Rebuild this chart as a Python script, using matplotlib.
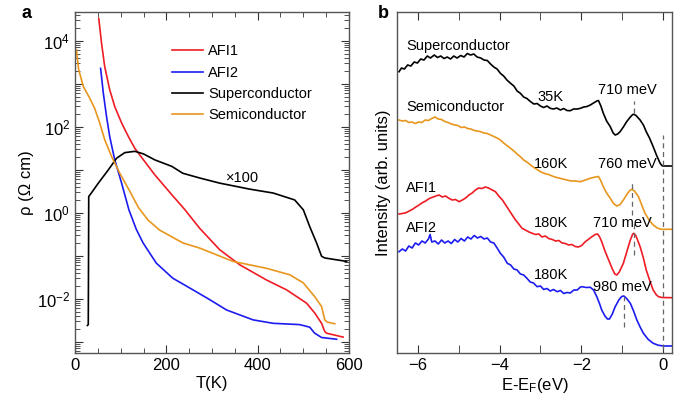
import numpy as np
import matplotlib
matplotlib.use('Agg')
import matplotlib.pyplot as plt
from matplotlib.ticker import FixedLocator, NullFormatter

plt.rcParams['font.family'] = ['Liberation Sans', 'DejaVu Sans']
plt.rcParams['mathtext.fontset'] = 'custom'
plt.rcParams['mathtext.rm'] = 'Liberation Sans'
plt.rcParams['mathtext.it'] = 'Liberation Sans:italic'

red = '#ee1c24'
blue = '#1c1cf0'
orange = '#e8961e'
black = '#000000'
spine = '#555555'

# ---- panel a: resistivity, log10(rho [Ohm cm]) vs T [K]
T_afi1 = [52, 58, 65, 76, 87, 102, 117, 131, 150, 175, 212, 240, 273, 317, 361, 419, 463, 507, 525, 540, 547, 551, 587]
lr_afi1 = [4.52, 3.95, 3.40, 2.86, 2.47, 2.09, 1.77, 1.50, 1.23, 0.88, 0.42, 0.08, -0.36, -0.86, -1.21, -1.56, -1.79, -2.10, -2.33, -2.57, -2.76, -2.80, -2.89]

T_afi2 = [56, 62, 69, 76, 87, 102, 118, 134, 149, 178, 214, 258, 295, 332, 390, 434, 492, 514, 525, 540, 573]
lr_afi2 = [3.36, 2.78, 2.24, 1.77, 1.23, 0.69, 0.07, -0.38, -0.70, -1.17, -1.52, -1.79, -2.02, -2.26, -2.49, -2.57, -2.60, -2.66, -2.80, -2.90, -2.94]

T_sc = [27, 29, 29.6, 30, 35, 51, 73, 91, 109, 131, 150, 175, 212, 236, 273, 317, 383, 434, 481, 500, 514, 529, 540, 547, 595]
lr_sc = [-2.62, -2.60, -1.0, 0.38, 0.45, 0.69, 1.00, 1.27, 1.40, 1.43, 1.37, 1.23, 1.08, 0.92, 0.81, 0.69, 0.55, 0.46, 0.30, 0.07, -0.32, -0.70, -1.01, -1.05, -1.13]

T_semi = [3, 8, 18, 32, 43, 54, 65, 80, 98, 120, 139, 160, 185, 236, 273, 346, 419, 470, 500, 525, 540, 547, 552, 569]
lr_semi = [3.79, 3.33, 2.94, 2.67, 2.43, 2.09, 1.70, 1.31, 0.92, 0.50, 0.12, -0.17, -0.40, -0.70, -0.82, -1.13, -1.29, -1.44, -1.63, -1.95, -2.18, -2.49, -2.54, -2.58]

# ---- panel b: spectra, E - EF [eV] vs intensity (arb.)
E_sc = [-6.46, -6.40, -6.33, -6.25, -6.17, -6.09, -6.01, -5.93, -5.85, -5.77, -5.69, -5.60, -5.52, -5.44, -5.36, -5.28,
        -5.20, -5.12, -5.04, -4.95, -4.87, -4.79, -4.71, -4.63, -4.55, -4.46, -4.38, -4.30, -4.22, -4.14, -4.06, -3.98,
        -3.90, -3.82, -3.73, -3.65, -3.57, -3.49, -3.41, -3.33, -3.24, -3.16, -3.08, -3.00, -2.92, -2.84, -2.76, -2.68,
        -2.60, -2.51, -2.43, -2.35, -2.27, -2.19, -2.10, -2.02, -1.94, -1.86, -1.78, -1.70, -1.62, -1.58, -1.52, -1.46,
        -1.38, -1.29, -1.22, -1.17, -1.11, -1.05, -0.97, -0.89, -0.80, -0.74, -0.71, -0.66, -0.56, -0.48, -0.41, -0.33,
        -0.24, -0.16, -0.07, -0.02, 0.03, 0.21]
I_sc = [28.13, 28.50, 28.40, 28.80, 28.70, 29.10, 29.00, 29.40, 29.30, 29.70, 29.50, 29.80, 29.55, 29.70, 29.45, 29.60,
        29.40, 29.70, 29.50, 29.75, 29.60, 29.95, 29.80, 29.90, 29.60, 29.50, 29.30, 29.25, 28.90, 28.60, 28.40, 27.97,
        27.70, 27.30, 26.97, 26.70, 26.20, 25.97, 25.60, 25.45, 25.13, 24.90, 24.95, 24.70, 24.55, 24.70, 24.47, 24.40,
        24.50, 24.30, 24.45, 24.25, 24.23, 24.40, 24.40, 24.47, 24.60, 24.65, 24.80, 25.00, 25.20, 25.25, 24.70, 23.97,
        23.20, 22.63, 22.00, 21.80, 21.90, 22.13, 22.60, 23.13, 23.60, 23.85, 23.87, 23.75, 23.30, 22.80, 22.13, 21.50,
        20.63, 19.80, 18.97, 18.72, 18.70, 18.70]

E_semi = [-6.46, -6.38, -6.30, -6.22, -6.14, -6.06, -5.98, -5.90, -5.82, -5.74, -5.66, -5.58, -5.50, -5.42, -5.34, -5.26,
          -5.18, -5.10, -5.02, -4.94, -4.86, -4.78, -4.70, -4.62, -4.54, -4.46, -4.38, -4.30, -4.22, -4.14, -4.06, -3.98,
          -3.90, -3.82, -3.73, -3.65, -3.57, -3.49, -3.41, -3.33, -3.24, -3.16, -3.08, -3.00, -2.90, -2.80, -2.67, -2.55,
          -2.45, -2.35, -2.25, -2.15, -2.02, -1.90, -1.78, -1.66, -1.58, -1.53, -1.46, -1.38, -1.29, -1.21, -1.13, -1.05,
          -0.97, -0.87, -0.80, -0.76, -0.70, -0.60, -0.52, -0.44, -0.34, -0.24, -0.14, -0.04, 0.21]
I_semi = [23.30, 23.20, 23.25, 23.05, 23.10, 22.95, 23.10, 23.05, 23.30, 23.25, 23.45, 23.60, 23.40, 23.35, 23.15, 23.05,
          22.90, 22.80, 22.75, 22.55, 22.60, 22.45, 22.40, 22.25, 22.20, 22.13, 22.00, 21.95, 21.80, 21.65, 21.50, 21.30,
          21.00, 20.75, 20.47, 20.20, 19.90, 19.63, 19.30, 19.10, 18.80, 18.55, 18.35, 18.13, 17.95, 17.85, 17.63, 17.50,
          17.40, 17.30, 17.20, 17.20, 17.13, 17.30, 17.47, 17.60, 17.65, 17.30, 16.63, 16.00, 15.47, 14.95, 14.70, 14.85,
          15.30, 15.95, 16.30, 16.37, 16.20, 15.63, 14.80, 13.97, 13.30, 12.80, 12.50, 12.37, 12.37]

E_afi1 = [-6.46, -6.38, -6.29, -6.21, -6.13, -6.05, -5.97, -5.89, -5.81, -5.72, -5.64, -5.56, -5.48, -5.40, -5.32, -5.24,
          -5.16, -5.08, -4.99, -4.91, -4.83, -4.75, -4.67, -4.59, -4.51, -4.43, -4.35, -4.27, -4.18, -4.10, -4.02, -3.93,
          -3.85, -3.77, -3.69, -3.61, -3.53, -3.45, -3.37, -3.28, -3.20, -3.12, -3.04, -2.96, -2.88, -2.80, -2.71, -2.63,
          -2.55, -2.47, -2.39, -2.31, -2.23, -2.15, -2.07, -1.99, -1.91, -1.83, -1.75, -1.66, -1.60, -1.55, -1.50, -1.42,
          -1.33, -1.24, -1.18, -1.13, -1.07, -0.97, -0.88, -0.80, -0.74, -0.71, -0.66, -0.56, -0.48, -0.41, -0.32, -0.24,
          -0.17, -0.11, -0.03, 0.21]
I_afi1 = [13.90, 13.95, 14.03, 14.20, 14.37, 14.60, 14.80, 15.03, 15.20, 15.45, 15.57, 15.70, 15.80, 15.60, 15.70, 15.47,
          15.30, 15.35, 15.13, 15.30, 15.50, 15.80, 16.00, 16.30, 16.50, 16.45, 16.60, 16.50, 16.30, 16.13, 15.70, 15.30,
          14.80, 14.30, 13.80, 13.30, 12.90, 12.47, 12.30, 12.10, 11.97, 11.85, 11.90, 11.60, 11.70, 11.45, 11.35, 11.20,
          11.25, 11.00, 10.95, 10.80, 10.85, 10.65, 10.60, 10.75, 11.10, 11.35, 11.60, 11.85, 11.90, 11.60, 11.13, 10.20,
          9.30, 8.40, 7.90, 7.80, 8.10, 8.97, 10.20, 11.30, 11.90, 11.97, 11.70, 10.63, 9.50, 8.30, 7.20, 6.30,
          5.85, 5.63, 5.55, 5.53]

E_afi2 = [-6.46, -6.38, -6.30, -6.22, -6.14, -6.06, -5.98, -5.90, -5.82, -5.74, -5.70, -5.66, -5.58, -5.50, -5.42, -5.34,
          -5.26, -5.18, -5.10, -5.02, -4.94, -4.86, -4.78, -4.70, -4.62, -4.54, -4.46, -4.38, -4.30, -4.22, -4.14, -4.06,
          -3.98, -3.90, -3.81, -3.73, -3.65, -3.57, -3.49, -3.41, -3.33, -3.25, -3.17, -3.08, -3.00, -2.92, -2.84, -2.76,
          -2.68, -2.59, -2.51, -2.43, -2.35, -2.27, -2.18, -2.10, -2.02, -1.98, -1.88, -1.78, -1.70, -1.62, -1.55, -1.50,
          -1.42, -1.36, -1.31, -1.24, -1.17, -1.08, -1.01, -0.96, -0.90, -0.80, -0.72, -0.64, -0.56, -0.48, -0.36, -0.24,
          -0.12, 0.01, 0.21]
I_afi2 = [10.13, 10.40, 10.20, 10.70, 10.50, 11.00, 10.80, 11.20, 11.00, 11.40, 11.85, 11.10, 11.20, 10.90, 11.30, 11.00,
          11.20, 10.95, 11.35, 11.10, 11.45, 11.20, 11.60, 11.40, 11.75, 11.50, 11.65, 11.40, 11.50, 11.10, 11.00, 10.50,
          9.97, 9.60, 8.97, 8.80, 8.40, 8.30, 7.90, 7.80, 7.47, 7.10, 7.00, 6.63, 6.70, 6.35, 6.45, 6.20,
          6.35, 6.13, 6.25, 5.95, 6.05, 6.00, 6.30, 6.30, 6.60, 6.63, 6.55, 6.57, 6.30, 5.63, 4.90, 4.30,
          3.70, 3.40, 3.40, 3.90, 4.63, 5.30, 5.65, 5.70, 5.50, 4.97, 4.20, 3.30, 2.60, 1.97, 1.35, 0.97,
          0.78, 0.70, 0.70]

# peak markers (E, top, bottom)
peak_E = [-0.71, -0.75, -0.70, -0.96]
peak_top = [25.2, 17.3, 13.1, 5.6]
peak_bot = [24.0, 13.8, 9.8, 2.6]

fig = plt.figure(figsize=(6.89, 3.98), dpi=100)
axa = fig.add_axes([0.1089, 0.1131, 0.3976, 0.8567])
axb = fig.add_axes([0.5762, 0.1131, 0.3991, 0.8567])

lw = 1.2
axa.plot(T_afi1, 10**np.array(lr_afi1), color=red, lw=lw, label='AFI1')
axa.plot(T_afi2, 10**np.array(lr_afi2), color=blue, lw=lw, label='AFI2')
axa.plot(T_sc, 10**np.array(lr_sc), color=black, lw=lw, label='Superconductor')
axa.plot(T_semi, 10**np.array(lr_semi), color=orange, lw=lw, label='Semiconductor')
axa.set_yscale('log')
axa.set_xlim(0, 600)
axa.set_ylim(10**-3.26, 10**4.67)
axa.set_xticks([0, 200, 400, 600])
axa.set_xticks(np.arange(0, 601, 50), minor=True)
axa.yaxis.set_major_locator(FixedLocator([10.0**k for k in range(-3, 5)]))
axa.yaxis.set_minor_locator(FixedLocator([m * 10.0**k for k in range(-4, 5) for m in range(2, 10)]))
axa.yaxis.set_minor_formatter(NullFormatter())
axa.set_yticklabels(['' if k % 2 else r'$10^{%d}$' % k for k in range(-3, 5)])
axa.set_xlabel('T(K)', fontsize=12, labelpad=2)
axa.set_ylabel('ρ (Ω cm)', fontsize=12, labelpad=2)
axa.text(367, 6.5, '×100', fontsize=10.5, ha='center', va='center')
axa.legend(loc='upper left', bbox_to_anchor=(0.354, 0.905), frameon=False, fontsize=10.5,
           handlelength=2.1, handletextpad=0.4, labelspacing=0.5, borderpad=0, borderaxespad=0)
axa.tick_params(which='both', direction='in', top=True, right=True, labelsize=12, colors='#333333')
axa.tick_params(which='major', length=6)
axa.tick_params(which='minor', length=3.5)
axa.tick_params(labelcolor='black')

axb.plot(E_sc, I_sc, color=black, lw=lw)
axb.plot(E_semi, I_semi, color=orange, lw=lw)
axb.plot(E_afi1, I_afi1, color=red, lw=lw)
axb.plot(E_afi2, I_afi2, color=blue, lw=lw)
for e, t, b in zip(peak_E, peak_top, peak_bot):
    axb.plot([e, e], [b, t], color='#666666', lw=0.9, ls=(0, (4, 3)))
axb.plot([0, 0], [0.4, 21.8], color='#666666', lw=0.9, ls=(0, (4, 3)))
axb.set_xlim(-6.51, 0.22)
axb.set_ylim(0, 34.1)
axb.set_xticks([-6, -4, -2, 0])
axb.set_xticks([-5, -3, -1], minor=True)
axb.set_yticks([])
axb.set_xlabel(r'E-E$_\mathrm{F}$(eV)', fontsize=12, labelpad=2)
axb.set_ylabel('Intensity (arb. units)', fontsize=12, labelpad=4)
axb.tick_params(which='both', direction='in', top=True, labelsize=12, colors='#333333')
axb.tick_params(which='major', length=6)
axb.tick_params(which='minor', length=6)
axb.tick_params(labelcolor='black')

fs = 10.5
axb.text(-6.29, 30.7, 'Superconductor', fontsize=fs, va='center')
axb.text(-6.29, 24.6, 'Semiconductor', fontsize=fs, va='center')
axb.text(-6.29, 16.5, 'AFI1', fontsize=fs, va='center')
axb.text(-6.29, 12.5, 'AFI2', fontsize=fs, va='center')
axb.text(-3.07, 25.6, '35K', fontsize=fs, va='center')
axb.text(-1.59, 26.3, '710 meV', fontsize=fs, va='center')
axb.text(-3.15, 18.9, '160K', fontsize=fs, va='center')
axb.text(-1.59, 18.9, '760 meV', fontsize=fs, va='center')
axb.text(-3.15, 13.0, '180K', fontsize=fs, va='center')
axb.text(-1.71, 13.0, '710 meV', fontsize=fs, va='center')
axb.text(-3.15, 7.8, '180K', fontsize=fs, va='center')
axb.text(-1.71, 6.6, '980 meV', fontsize=fs, va='center')

for ax in (axa, axb):
    for s in ax.spines.values():
        s.set_color(spine)
        s.set_linewidth(1.0)

fig.text(27 / 689, 1 - 13 / 398, 'a', fontsize=13, fontweight='bold', ha='center', va='center')
fig.text(383 / 689, 1 - 13 / 398, 'b', fontsize=13, fontweight='bold', ha='center', va='center')

fig.savefig('out.png', dpi=100)
